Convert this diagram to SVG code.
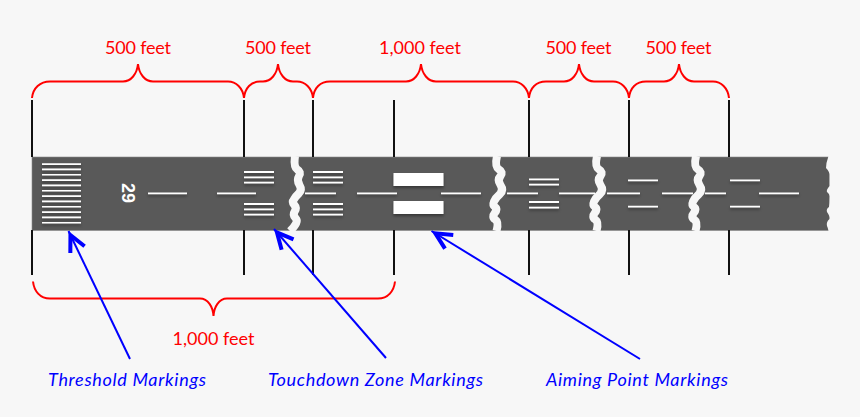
<svg xmlns="http://www.w3.org/2000/svg" width="860" height="417" viewBox="0 0 860 417">
<style>
.tick{stroke:#111;stroke-width:2;fill:none}
.brace{stroke:#f00;stroke-width:2;fill:none}
.arrow{stroke:#00f;stroke-width:2;fill:none;marker-end:url(#head)}
.gap{stroke:#f7f7f7;stroke-width:8;fill:none;stroke-linejoin:round;stroke-linecap:butt}
.cl{fill:#fff}
.red{font:18px Lato,"Noto Sans","Liberation Sans",sans-serif;fill:#f00;text-anchor:middle}
.blue{font:italic 18px Lato,"Noto Sans","Liberation Sans",sans-serif;fill:#00f}
</style>
<defs>
<filter id="sh" x="-5%" y="-10%" width="110%" height="120%"><feDropShadow dx="0" dy="2" stdDeviation="1.5" flood-color="#000" flood-opacity="0.4"/></filter>
<marker id="head" markerUnits="userSpaceOnUse" markerWidth="30" markerHeight="30" refX="28.500" refY="15" orient="auto"><path d="M7.800 7.100 L24 15 L7.800 22.900" fill="none" stroke="#00f" stroke-width="4"/></marker>
<path id="wiggle" class="gap" d="M497 156 Q494.500 167 499 169.500 Q503.500 172 500.500 176 Q497 180 500.500 185 Q504 190 500 194 Q495.500 198 494 201.500 Q492.500 205 495 207 Q498 209 494.750 213 Q491.500 217 495.250 219.500 Q499 222 496.500 231"/>
</defs>
<rect width="860" height="417" fill="#f7f7f7"/>
<g id="runway">
<rect x="32" y="157" width="798" height="73.500" fill="#595959" stroke="#8a8a8a" stroke-width="0.6"/>
<g id="markings" class="cl" filter="url(#sh)">
<path d="M42 163.200h39v1.700h-39zM42 168.500h39v1.700h-39zM42 173.900h39v1.700h-39zM42 179.200h39v1.700h-39zM42 184.500h39v1.700h-39zM42 189.900h39v1.700h-39zM42 195.200h39v1.700h-39zM42 200.500h39v1.700h-39zM42 205.900h39v1.700h-39zM42 211.200h39v1.700h-39zM42 216.500h39v1.700h-39zM42 221.900h39v1.700h-39z"/>
<path d="M148 192.400h39v1.800h-39zM217 192.400h39v1.800h-39zM305 192.400h31v1.800h-31zM357 192.400h40v1.800h-40zM441 192.400h40v1.800h-40zM507 192.400h31v1.800h-31zM559 192.400h36v1.800h-36zM607 192.400h33v1.800h-33zM662 192.400h31v1.800h-31zM705 192.400h21v1.800h-21zM759 192.400h40v1.800h-40z"/>
<path d="M244 171.100h30v1.800h-30zM244 176.400h30v1.800h-30zM244 181.800h30v1.800h-30zM244 203.100h30v1.800h-30zM244 208.400h30v1.800h-30zM244 213.800h30v1.800h-30z"/>
<path d="M313 171.100h30v1.800h-30zM313 176.400h30v1.800h-30zM313 181.800h30v1.800h-30zM313 203.100h30v1.800h-30zM313 208.400h30v1.800h-30zM313 213.800h30v1.800h-30z"/>
<path d="M393.500 173h50v13h-50zM393.500 201h50v13h-50z"/>
<path d="M529 178.400h30v1.800h-30zM529 183.800h30v1.800h-30zM529 201.100h30v1.800h-30zM529 206.800h30v1.800h-30z"/>
<path d="M628 179.400h30v1.800h-30zM628 205.800h30v1.800h-30zM730 179.400h30v1.800h-30zM730 205.800h30v1.800h-30z"/>
</g>
<text transform="translate(122 193) rotate(90)" font-family="Liberation Sans,sans-serif" font-weight="700" font-size="18" fill="#fff" text-anchor="middle">29</text>
<path class="gap" d="M295 156 Q293.500 167 297.250 169.500 Q301.500 172 299 176 Q296.500 180 299.500 185 Q302.500 190 298.750 193.500 Q295 197 293.850 199.500 Q291.700 202 294.350 205 Q297 208 294.650 211.500 Q292.300 215 295.800 218.500 Q299.300 222 290 231"/>
<use href="#wiggle"/>
<use href="#wiggle" transform="translate(100 0)"/>
<use href="#wiggle" transform="translate(199 0)"/>
<path d="M828.500 156 Q826 163 826 168 Q830 172 829.500 176 Q829.500 182 829.500 186 Q826 190 827 192 Q830 194 829.500 198 Q829.500 203 829 207 Q826 209 827 212 Q830 216 829.500 219 Q826 222 827 226 Q828 228 828.500 231 H834 V156 Z" fill="#f7f7f7"/>
</g>
<g id="connectors">
<path class="tick" d="M32 100V157M32 230V275M244 100V157M244 230V275M313 100V157M313 230V275M394 100V157M394 230V275M529 100V157M529 230V275M629 100V157M629 230V275M729 100V157M729 230V275"/>
<path class="brace" d="M32 98 C33 88 40 81.500 50 81.500 H123 C131 81.500 137 74 138 64 C139 74 145 81.500 153 81.500 H228 C236 81.500 243 88 244 98"/>
<path class="brace" d="M244 98 C245 88 251 81.500 260 81.500 H263 C271 81.500 277 74 278 64 C279 74 285 81.500 293 81.500 H297 C305 81.500 312 88 313 98"/>
<path class="brace" d="M313 98 C314 88 320 81.500 330 81.500 H406 C414 81.500 420 74 421 64 C422 74 428 81.500 436 81.500 H513 C521 81.500 528 88 529 98"/>
<path class="brace" d="M529 98 C530 88 536 81.500 546 81.500 H564 C572 81.500 578 74 579 64 C580 74 586 81.500 594 81.500 H613 C621 81.500 628 88 629 98"/>
<path class="brace" d="M629 98 C630 88 636 81.500 646 81.500 H664 C672 81.500 678 74 679 64 C680 74 686 81.500 694 81.500 H713 C721 81.500 728 88 729 98"/>
<path class="brace" d="M33 281.500 C34 291 40 298.500 50 298.500 H200 C208 298.500 213 307 213.500 316 C214 307 219 298.500 227 298.500 H378 C388 298.500 394 291 395 281.500"/>
<path class="arrow" d="M130 359 L68.500 231"/>
<path class="arrow" d="M386 358 L274 229"/>
<path class="arrow" d="M640 359 L431.500 231"/>
</g>
<g id="labels">
<text class="red" x="138" y="54" textLength="66">500 feet</text>
<text class="red" x="278" y="54" textLength="66">500 feet</text>
<text class="red" x="420" y="54" textLength="82">1,000 feet</text>
<text class="red" x="578.500" y="54" textLength="66">500 feet</text>
<text class="red" x="678.500" y="54" textLength="66">500 feet</text>
<text class="red" x="213.500" y="345" textLength="82">1,000 feet</text>
<text class="blue" x="48" y="386" textLength="158">Threshold Markings</text>
<text class="blue" x="268" y="386" textLength="215">Touchdown Zone Markings</text>
<text class="blue" x="546" y="386" textLength="182">Aiming Point Markings</text>
</g>
</svg>
